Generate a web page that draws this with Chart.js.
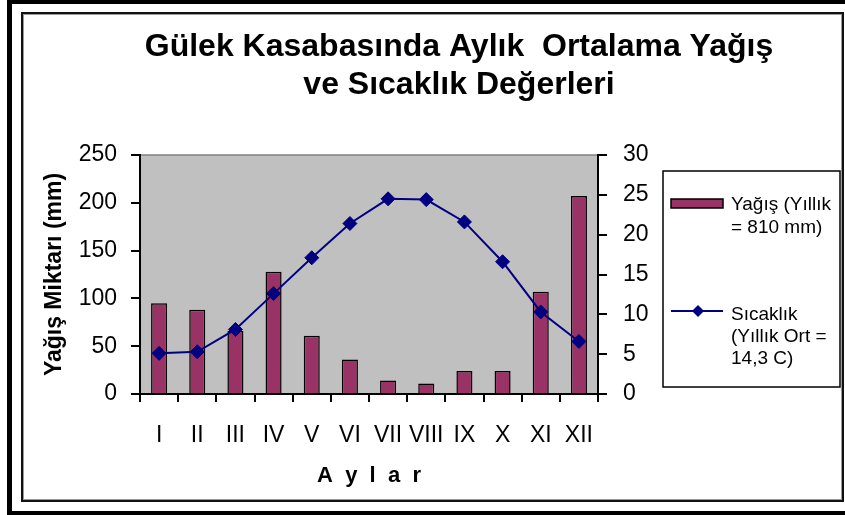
<!DOCTYPE html>
<html>
<head>
<meta charset="utf-8">
<script src="https://cdn.jsdelivr.net/npm/chart.js@4/dist/chart.umd.min.js"></script>
<style>
  body { margin: 0; background: #fff; }
  canvas { display: block; }
</style>
</head>
<body>
<canvas id="grafik" width="845" height="515"></canvas>
<script>
// Veriler
const aylar = ['I', 'II', 'III', 'IV', 'V', 'VI', 'VII', 'VIII', 'IX', 'X', 'XI', 'XII'];
const yagis = [95, 88, 66, 128, 61, 36, 14, 11, 24, 24, 107, 207];
const sicaklik = [5.1, 5.3, 8.1, 12.6, 17.1, 21.4, 24.5, 24.4, 21.6, 16.6, 10.3, 6.6];
const baslik = ['Gülek Kasabasında Aylık  Ortalama Yağış', 've Sıcaklık Değerleri'];
const yagisEtiket = ['Yağış (Yıllık', '= 810 mm)'];
const sicaklikEtiket = ['Sıcaklık', '(Yıllık Ort =', '14,3 C)'];

const yaziTipi = "'Liberation Sans', Arial, sans-serif";
const barRenk = '#993366';
const cizgiRenk = '#000080';

// Çerçeve, gri alan, başlık ve lejant
const cizimEklentisi = {
    id: 'cizim',
    beforeDraw(chart) {
        const ctx = chart.ctx;
        ctx.save();
        ctx.fillStyle = '#fff';
        ctx.fillRect(0, 0, 845, 515);
        // dış kalın çerçeve
        ctx.fillStyle = '#000';
        ctx.fillRect(7, 0, 845, 515);
        ctx.fillStyle = '#fff';
        ctx.fillRect(12, 4, 845, 507);
        // iç çerçeve
        ctx.strokeStyle = '#111';
        ctx.lineWidth = 2;
        ctx.strokeRect(22, 13, 821, 488);
        ctx.strokeStyle = '#999';
        ctx.lineWidth = 1;
        ctx.strokeRect(23.5, 14.5, 818, 485);

        // gri çizim alanı
        const a = chart.chartArea;
        ctx.fillStyle = '#c0c0c0';
        ctx.fillRect(a.left, a.top, a.right - a.left, a.bottom - a.top);
        ctx.strokeStyle = '#808080';
        ctx.lineWidth = 1.5;
        ctx.beginPath();
        ctx.moveTo(a.left, a.top);
        ctx.lineTo(a.right, a.top);
        ctx.stroke();

        // başlık
        ctx.fillStyle = '#000';
        ctx.font = 'bold 32px ' + yaziTipi;
        ctx.textAlign = 'center';
        ctx.textBaseline = 'alphabetic';
        baslik.forEach((satir, i) => ctx.fillText(satir, 459, 56 + i * 38));
        ctx.restore();
    },
    afterDraw(chart) {
        const ctx = chart.ctx;
        ctx.save();
        // lejant kutusu
        ctx.fillStyle = '#fff';
        ctx.fillRect(663, 171, 177, 216);
        ctx.strokeStyle = '#000';
        ctx.lineWidth = 1.5;
        ctx.strokeRect(663, 171, 177, 216);

        // yağış simgesi
        ctx.fillStyle = barRenk;
        ctx.fillRect(671, 199, 52, 9);
        ctx.strokeRect(671, 199, 52, 9);

        // sıcaklık simgesi
        ctx.strokeStyle = cizgiRenk;
        ctx.lineWidth = 2;
        ctx.beginPath();
        ctx.moveTo(671, 311);
        ctx.lineTo(723, 311);
        ctx.stroke();
        ctx.fillStyle = cizgiRenk;
        ctx.beginPath();
        ctx.moveTo(698 - 6, 311);
        ctx.lineTo(698, 305);
        ctx.lineTo(698 + 6, 311);
        ctx.lineTo(698, 317);
        ctx.closePath();
        ctx.fill();

        ctx.fillStyle = '#000';
        ctx.font = '19px ' + yaziTipi;
        ctx.textAlign = 'left';
        ctx.textBaseline = 'middle';
        yagisEtiket.forEach((s, i) => ctx.fillText(s, 731, 205 + i * 23));
        sicaklikEtiket.forEach((s, i) => ctx.fillText(s, 731, 315 + i * 22));
        ctx.restore();
    }
};

document.addEventListener('DOMContentLoaded', () => {
    const ctx = document.getElementById('grafik').getContext('2d');
    new Chart(ctx, {
        data: {
            labels: aylar,
            datasets: [
                {
                    type: 'line',
                    label: 'Sıcaklık',
                    data: sicaklik,
                    yAxisID: 'ySicaklik',
                    borderColor: cizgiRenk,
                    backgroundColor: cizgiRenk,
                    borderWidth: 2,
                    pointStyle: 'rectRot',
                    pointRadius: 7,
                    pointBorderWidth: 1,
                    tension: 0,
                    order: 0
                },
                {
                    type: 'bar',
                    label: 'Yağış',
                    data: yagis,
                    yAxisID: 'yYagis',
                    backgroundColor: barRenk,
                    borderColor: '#000',
                    borderWidth: 1.5,
                    categoryPercentage: 1,
                    barPercentage: 0.42,
                    order: 1
                }
            ]
        },
        options: {
            responsive: false,
            devicePixelRatio: 1,
            animation: false,
            layout: { padding: { top: 155, left: 0, right: 0, bottom: 21 } },
            plugins: {
                legend: { display: false },
                title: { display: false },
                tooltip: { enabled: false }
            },
            scales: {
                x: {
                    afterFit(scale) { scale.height = 100; },
                    grid: { drawOnChartArea: false, drawTicks: true, tickLength: 8, color: '#000', lineWidth: 2, offset: true },
                    border: { color: '#000', width: 2 },
                    ticks: {
                        color: '#000',
                        padding: 20,
                        autoSkip: false,
                        maxRotation: 0,
                        minRotation: 0,
                        font: { family: yaziTipi, size: 23 }
                    },
                    title: {
                        display: true,
                        text: 'A  y  l  a  r',
                        color: '#000',
                        font: { family: yaziTipi, size: 22, weight: 'bold' },
                        padding: { top: 0, bottom: 5 }
                    }
                },
                yYagis: {
                    position: 'left',
                    min: 0,
                    max: 250,
                    afterFit(scale) { scale.width = 140; },
                    grid: { drawOnChartArea: false, drawTicks: true, tickLength: 9, color: '#000', lineWidth: 2 },
                    border: { color: '#000', width: 2 },
                    ticks: { stepSize: 50, color: '#000', padding: 14, font: { family: yaziTipi, size: 23 } },
                    title: {
                        display: true,
                        text: 'Yağış Miktarı (mm)',
                        color: '#000',
                        font: { family: yaziTipi, size: 23, weight: 'bold' },
                        padding: { top: 41, bottom: 0 }
                    }
                },
                ySicaklik: {
                    position: 'right',
                    min: 0,
                    max: 30,
                    afterFit(scale) { scale.width = 247; },
                    grid: { drawOnChartArea: false, drawTicks: true, tickLength: 9, color: '#000', lineWidth: 2 },
                    border: { color: '#000', width: 2 },
                    ticks: { stepSize: 5, color: '#000', padding: 16, font: { family: yaziTipi, size: 23 } }
                }
            }
        },
        plugins: [cizimEklentisi]
    });
});
</script>
</body>
</html>
